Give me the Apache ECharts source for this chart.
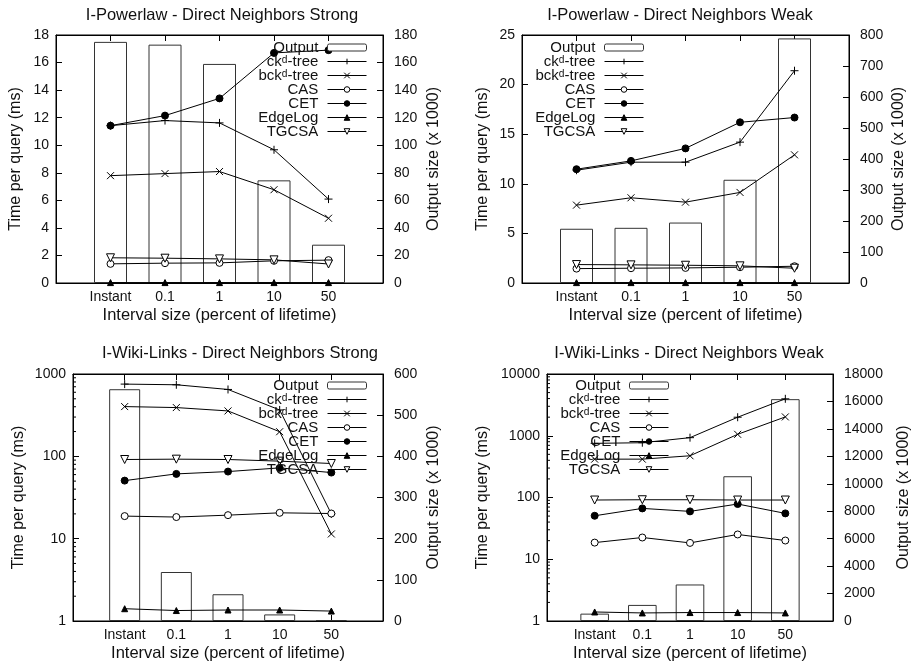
<!DOCTYPE html>
<html><head><meta charset="utf-8">
<script src="https://cdn.jsdelivr.net/npm/echarts@6.0.0/dist/echarts.min.js"></script>
<style>html,body{margin:0;padding:0;background:#fff}#c{width:914px;height:665px}</style>
</head><body><div id="c"></div>
<script>
// ---- data ----
const categories = ['Instant', '0.1', '1', '10', '50'];
const seriesNames = ['Output', 'ckᵈ-tree', 'bckᵈ-tree', 'CAS', 'CET', 'EdgeLog', 'TGCSA'];

// Panel 1: I-Powerlaw - Direct Neighbors Strong
const p1Output  = [175, 173, 159, 74.5, 27.8];
const p1Ck      = [11.42, 11.79, 11.62, 9.67, 6.09];
const p1Bck     = [7.79, 7.94, 8.09, 6.77, 4.70];
const p1Cas     = [1.39, 1.44, 1.46, 1.61, 1.66];
const p1Cet     = [11.42, 12.15, 13.4, 16.7, 16.9];
const p1EdgeLog = [0.03, 0.03, 0.03, 0.03, 0.03];
const p1Tgcsa   = [1.83, 1.80, 1.75, 1.68, 1.38];

// Panel 2: I-Powerlaw - Direct Neighbors Weak
const p2Output  = [175, 178, 195, 333, 789];
const p2Ck      = [11.37, 12.18, 12.18, 14.2, 21.4];
const p2Bck     = [7.85, 8.59, 8.15, 9.13, 12.92];
const p2Cas     = [1.45, 1.49, 1.52, 1.59, 1.69];
const p2Cet     = [11.47, 12.31, 13.57, 16.2, 16.68];
const p2EdgeLog = [0.04, 0.04, 0.04, 0.04, 0.04];
const p2Tgcsa   = [1.86, 1.83, 1.79, 1.73, 1.49];

// Panel 3: I-Wiki-Links - Direct Neighbors Strong
const p3Output  = [563, 119, 65, 16, 2];
const p3Ck      = [754, 740, 649, 366, 20];
const p3Bck     = [402, 391, 356, 199, 11.4];
const p3Cas     = [18.8, 18.3, 19.3, 20.6, 20.2];
const p3Cet     = [50.7, 61.2, 65.3, 72.4, 63.5];
const p3EdgeLog = [1.41, 1.34, 1.36, 1.36, 1.32];
const p3Tgcsa   = [91.5, 92.4, 91.5, 87.4, 81.8];

// Panel 4: I-Wiki-Links - Direct Neighbors Weak
const p4Output  = [537, 1172, 2662, 10549, 16166];
const p4Ck      = [753, 771, 931, 1995, 3966];
const p4Bck     = [418, 418, 474, 1055, 2019];
const p4Cas     = [18.6, 22.5, 18.4, 25.2, 20.1];
const p4Cet     = [50.6, 66.6, 59.6, 78.4, 55.3];
const p4EdgeLog = [1.40, 1.35, 1.37, 1.37, 1.35];
const p4Tgcsa   = [91, 92, 92, 91, 91];

// tick labels
const p1LeftTicks = [0, 18, 2], p1RightTicks = [0, 180, 20];
const p2LeftTicks = [0, 25, 5], p2RightTicks = [0, 800, 100];
const p3LeftTicks = [1, 1000], p3RightTicks = [0, 600, 100];
const p4LeftTicks = [1, 10000], p4RightTicks = [0, 18000, 2000];
const logMinor3 = [2,3,4,5,6,7,8,9,20,30,40,50,60,70,80,90,200,300,400,500,600,700,800,900];
const logMinor4 = logMinor3.concat([2000,3000,4000,5000,6000,7000,8000,9000]);

// ---- styling / layout ----
const FONT = '"Liberation Sans", Arial, Helvetica, sans-serif';
const TXT = '#111';
const panels = [
  {title: 'I-Powerlaw - Direct Neighbors Strong', tx: 222, ty: 7,
   grid: {left: 56, top: 35, width: 327, height: 248}, log: false, lt: p1LeftTicks, rt: p1RightTicks,
   lgap: 32, rgap: 43, legend: {right: 547, top: 40}, bw: 33,
   out: p1Output, lines: [p1Ck, p1Bck, p1Cas, p1Cet, p1EdgeLog, p1Tgcsa]},
  {title: 'I-Powerlaw - Direct Neighbors Weak', tx: 680, ty: 7,
   grid: {left: 522, top: 35, width: 327, height: 248}, log: false, lt: p2LeftTicks, rt: p2RightTicks,
   lgap: 31, rgap: 42, legend: {right: 270, top: 40}, bw: 33,
   out: p2Output, lines: [p2Ck, p2Bck, p2Cas, p2Cet, p2EdgeLog, p2Tgcsa]},
  {title: 'I-Wiki-Links - Direct Neighbors Strong', tx: 240, ty: 345,
   grid: {left: 73, top: 374, width: 310, height: 247}, log: true, lt: p3LeftTicks, rt: p3RightTicks, minor: logMinor3,
   lgap: 46, rgap: 43, legend: {right: 547, top: 378}, bw: 31,
   out: p3Output, lines: [p3Ck, p3Bck, p3Cas, p3Cet, p3EdgeLog, p3Tgcsa]},
  {title: 'I-Wiki-Links - Direct Neighbors Weak', tx: 689, ty: 345,
   grid: {left: 547, top: 374, width: 286, height: 247}, log: true, lt: p4LeftTicks, rt: p4RightTicks, minor: logMinor4,
   lgap: 56, rgap: 63, legend: {right: 245, top: 378}, bw: 28.6,
   out: p4Output, lines: [p4Ck, p4Bck, p4Cas, p4Cet, p4EdgeLog, p4Tgcsa]}
];

const symbols = [
  {symbol: 'path://M0,5L10,5M5,0L5,10', size: 8, fill: '#000'},
  {symbol: 'path://M0,0L10,10M10,0L0,10', size: 7, fill: '#000'},
  {symbol: 'circle', size: 7, fill: '#fff'},
  {symbol: 'circle', size: 7, fill: '#000'},
  {symbol: 'triangle', size: 6, fill: '#000'},
  {symbol: 'path://M0,0L10,0L5,8.66Z', size: 8, fill: '#fff'}
];

const plain = v => String(v);

const option = {
  animation: false, backgroundColor: '#fff',
  textStyle: {fontFamily: FONT, color: TXT},
  title: [], grid: [], xAxis: [], yAxis: [], series: [], legend: []
};

panels.forEach((p, gi) => {
  option.title.push({text: p.title, left: p.tx, top: p.ty, textAlign: 'center', padding: 0,
    textStyle: {fontFamily: FONT, fontSize: 16.5, fontWeight: 'normal', color: TXT}});
  option.grid.push(Object.assign({show: true, borderColor: '#000', borderWidth: 1,
    backgroundColor: 'transparent', outerBoundsMode: 'none', containLabel: false}, p.grid));
  const xBase = {gridIndex: gi, type: 'value', min: -1, max: 5, interval: 1,
    axisLine: {show: true, onZero: false, lineStyle: {color: '#000', width: 1}},
    axisTick: {show: true, inside: true, length: 6, lineStyle: {color: '#000'}},
    splitLine: {show: false}};
  option.xAxis.push(Object.assign({}, xBase, {position: 'bottom',
    name: 'Interval size (percent of lifetime)', nameLocation: 'middle', nameGap: 24,
    nameTextStyle: {fontSize: 16.5, color: TXT, fontFamily: FONT},
    axisLabel: {margin: 7, fontSize: 14, color: TXT, fontFamily: FONT,
      formatter: v => (v >= 0 && v < categories.length) ? categories[v] : ''}}));
  option.xAxis.push(Object.assign({}, xBase, {position: 'top', axisLabel: {show: false}}));
  const yl = {gridIndex: gi, position: 'left',
    name: 'Time per query (ms)', nameLocation: 'middle', nameGap: p.lgap,
    nameTextStyle: {fontSize: 16, color: TXT, fontFamily: FONT},
    axisLine: {show: true, onZero: false, lineStyle: {color: '#000'}},
    axisTick: {show: true, inside: true, length: 6, lineStyle: {color: '#000'}},
    axisLabel: {margin: 7, fontSize: 14, color: TXT, fontFamily: FONT, formatter: plain},
    splitLine: {show: false}};
  if (p.log) Object.assign(yl, {type: 'log', logBase: 10, min: p.lt[0], max: p.lt[1]});
  else Object.assign(yl, {type: 'value', min: p.lt[0], max: p.lt[1], interval: p.lt[2]});
  option.yAxis.push(yl);
  option.yAxis.push({gridIndex: gi, position: 'right', type: 'value',
    min: p.rt[0], max: p.rt[1], interval: p.rt[2],
    name: 'Output size (x 1000)', nameLocation: 'middle', nameGap: p.rgap,
    nameTextStyle: {fontSize: 16, color: TXT, fontFamily: FONT},
    axisLine: {show: true, onZero: false, lineStyle: {color: '#000'}},
    axisTick: {show: true, inside: true, length: 6, lineStyle: {color: '#000'}},
    axisLabel: {margin: 11, fontSize: 14, color: TXT, fontFamily: FONT, formatter: plain},
    splitLine: {show: false}});
  const xi = gi * 2, yi = gi * 2;
  option.series.push({type: 'bar', name: 'Output', xAxisIndex: xi, yAxisIndex: yi + 1,
    data: p.out.map((v, i) => [i, v]), barWidth: p.bw, z: 1,
    itemStyle: {color: '#fff', borderColor: '#333', borderWidth: 1}});
  p.lines.forEach((arr, k) => {
    const s = symbols[k];
    option.series.push({type: 'line', name: seriesNames[k + 1], xAxisIndex: xi, yAxisIndex: yi,
      data: arr.map((v, i) => [i, v]), symbol: s.symbol, symbolSize: s.size, showSymbol: true,
      clip: false, z: 3,
      lineStyle: {color: '#000', width: 1},
      itemStyle: {color: s.fill, borderColor: '#000', borderWidth: 1}});
  });
  if (p.minor) {
    option.series.push({type: 'custom', xAxisIndex: xi, yAxisIndex: yi, silent: true, clip: false, z: 2,
      data: p.minor.map(v => [-1, v]),
      renderItem: (params, api) => {
        const pt = api.coord([api.value(0), api.value(1)]);
        return {type: 'line', shape: {x1: pt[0], y1: pt[1], x2: pt[0] + 3, y2: pt[1]},
          style: {stroke: '#000', lineWidth: 1}};
      }});
  }
  option.legend.push({orient: 'vertical', align: 'right', right: p.legend.right, top: p.legend.top,
    padding: 0, itemGap: -1, itemWidth: 39, itemHeight: 7, selectedMode: false,
    data: seriesNames,
    lineStyle: {width: 1},
    itemStyle: {borderWidth: 1},
    formatter: n => n + ' ',
    textStyle: {fontSize: 15, color: TXT, fontFamily: FONT}});
});

const chart = echarts.init(document.getElementById('c'));
chart.setOption(option);
</script>
</body></html>
